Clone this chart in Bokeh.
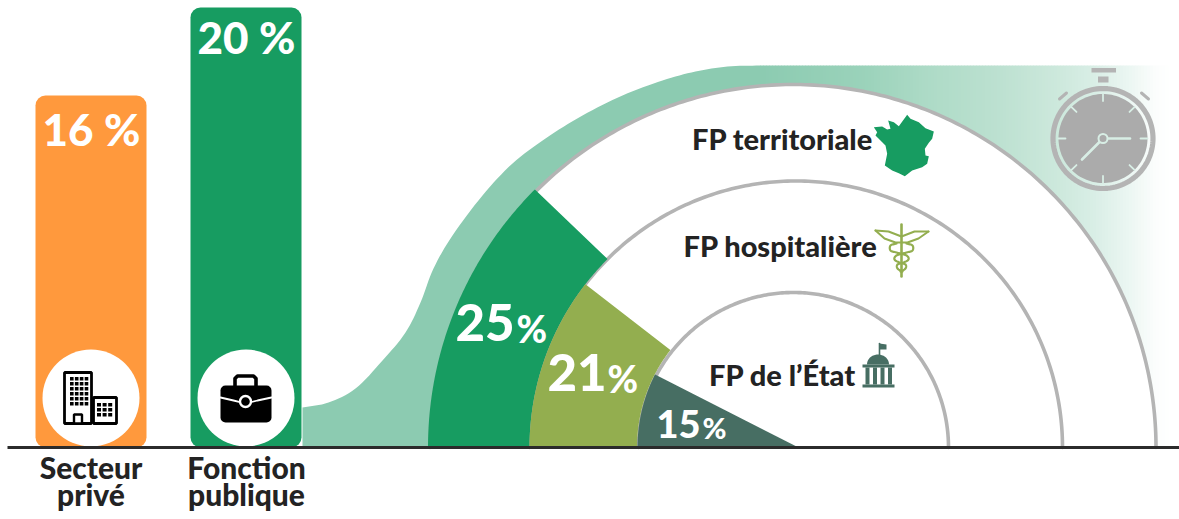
import numpy as np
from bokeh.plotting import figure
from bokeh.models import Range1d
from bokeh.core.properties import value
from bokeh.embed import file_html
from bokeh.resources import INLINE

# ---------- data ----------
bar_labels = [["Secteur", "privé"], ["Fonction", "publique"]]
bar_values = [16, 20]
bar_texts = ["16 %", "20 %"]
ring_names = ["FP territoriale", "FP hospitalière", "FP de l’État"]
ring_values = [25, 21, 15]
ring_texts = ["25", "21", "15"]

# ---------- styles ----------
ORANGE, GREEN, OLIVE, SLATE = "#FF993D", "#179C61", "#93AE4F", "#476E63"
BAND, GRAY, DARK = "#8CCBB1", "#B4B4B4", "#232323"
FONT = value("Lato Black")
W, H = 1179, 519
BASE = 447
PCT = 22.0
TEXT_SHIFT = 0.39


def Y(py):
    return (BASE - np.asarray(py, dtype=float)) / PCT


p = figure(width=W, height=H, output_backend="svg", toolbar_location=None,
           x_range=Range1d(0, W), y_range=Range1d((BASE - H) / PCT, BASE / PCT),
           min_border=0, outline_line_color=None, background_fill_color="white",
           border_fill_color="white", x_axis_location=None, y_axis_location=None)
p.grid.visible = False


def arc_pts(cx, r, a0, a1, n=120):
    t = np.radians(np.linspace(a0, a1, n))
    return cx + r * np.cos(t), BASE - r * np.sin(t)


def smooth(xs, ys, k=8):
    P = np.column_stack([xs, ys]).astype(float)
    P = np.vstack([2 * P[0] - P[1], P, 2 * P[-1] - P[-2]])
    out = []
    for i in range(1, len(P) - 2):
        for t in np.linspace(0, 1, k, endpoint=False):
            a, b, c, d = P[i - 1], P[i], P[i + 1], P[i + 2]
            out.append(0.5 * (2 * b + (c - a) * t + (2 * a - 5 * b + 4 * c - d) * t ** 2 + (3 * b - a - 3 * c + d) * t ** 3))
    out.append(P[-2])
    out = np.array(out)
    return out[:, 0], out[:, 1]


def txt(x, py, s, size, color=DARK, align="center", style="normal"):
    p.text([x], [float(Y(py - TEXT_SHIFT * size))], text=[s], text_font=FONT, text_font_size=f"{size}px",
           text_font_style=style, text_color=color, text_align=align,
           text_baseline="alphabetic")


def poly(xs, ys, color):
    p.patch(list(xs), list(Y(ys)), fill_color=color, line_color=None)


def lin(xs, ys, color, w=2.0):
    p.line(list(xs), list(Y(ys)), line_color=color, line_width=w, line_cap="round", line_join="round")


# ---------- band with fading tail ----------
band_x = [302, 328, 355, 382, 405, 420, 433, 452, 482, 512, 545, 582, 622, 662, 695, 727, 760]
band_y = [407, 402, 388, 360, 332, 302, 268, 235, 195, 163, 138, 115, 95, 80, 71, 66, 65]
sx, sy = smooth(band_x, band_y)
poly(list(sx) + [760, 302], list(sy) + [BASE, BASE], BAND)
stops_x = [760, 860, 930, 1000, 1060, 1093, 1127, 1153, 1168]
stops_c = [(0x8C, 0xCB, 0xB1), (0x9A, 0xD2, 0xBA), (0xAE, 0xDB, 0xC7), (0xBD, 0xE1, 0xD1),
           (0xCE, 0xE9, 0xDD), (0xD9, 0xEE, 0xE6), (0xEB, 0xF6, 0xF2), (0xFB, 0xFD, 0xFC), (0xFF, 0xFF, 0xFF)]
xs = np.arange(760, 1168, 3)
cols = ["#%02X%02X%02X" % tuple(int(round(np.interp(x, stops_x, [c[i] for c in stops_c]))) for i in range(3))
        for x in xs]
p.quad(left=xs - 0.5, right=xs + 3, top=float(Y(65)), bottom=0, fill_color=cols, line_color=None)

# ---------- white half disc and grey rings ----------
ax, ay = arc_pts(792.5, 363, 180, 0, 240)
poly(ax, ay, "white")
rings = [(792.5, 363), (795.5, 266.5), (793, 155)]
for cx, r in rings:
    ax, ay = arc_pts(cx, r, 180, 0, 240)
    lin(ax, ay, GRAY, 3.6)

# ---------- sectors: each value is a share of the half circle ----------
sweep = [v * 1.8 for v in ring_values]
ox, oy = arc_pts(792.5, 365, 180, 180 - sweep[0])
ix, iy = arc_pts(795.5, 266.5, 180 - sweep[0], 180)
poly(list(ox) + list(ix), list(oy) + list(iy), GREEN)
ox, oy = arc_pts(795.5, 266.5, 180, 180 - sweep[1])
ix, iy = arc_pts(795.5, 159, 180 - sweep[1], 180)
poly(list(ox) + list(ix), list(oy) + list(iy), OLIVE)
ox, oy = arc_pts(798, 161, 180, 180 - sweep[2])
poly(list(ox) + [798], list(oy) + [BASE], SLATE)

for (x0, py, xp, size, psize), t in zip([(455, 342, 516, 51, 37), (547, 392, 607, 51, 37), (656, 438, 702, 38, 29)],
                                        ring_texts):
    txt(x0, py, t, size, "white", "left")
    txt(xp, py, "%", psize, "white", "left")

# ---------- bars ----------
bar_x = [90.5, 245.5]
p.vbar(x=bar_x, width=111, bottom=0, top=bar_values, fill_color=[ORANGE, GREEN], line_color=None,
       border_radius=10)
p.scatter(x=bar_x, y=[float(Y(397.5))] * 2, size=97, marker="circle", fill_color="white", line_color=None)
for x, py, t in zip(bar_x, [146, 54], bar_texts):
    txt(x + 0.5, py, t, 44, "white")
for x, lines in zip([90.5, 246], bar_labels):
    txt(x, 478, lines[0], 30)
    txt(x, 505, lines[1], 30)

# building icon
p.quad(left=[64, 93], right=[91, 116], top=list(Y([372, 397])), bottom=list(Y([423, 423])),
       fill_color="white", line_color="black", line_width=2.8)
wx, wy, = [], []
for c in range(4):
    for r in range(6):
        wx.append(69.5 + c * 4.9)
        wy.append(376.5 + r * 5.0)
p.quad(left=wx, right=[x + 3.6 for x in wx], top=list(Y(wy)), bottom=list(Y([y + 3.6 for y in wy])),
       fill_color="black", line_color=None)
wx, wy = [], []
for c in range(3):
    for r in range(3):
        wx.append(96.5 + c * 5.6)
        wy.append(402.5 + r * 5.0)
p.quad(left=wx, right=[x + 4 for x in wx], top=list(Y(wy)), bottom=list(Y([y + 3.6 for y in wy])),
       fill_color="black", line_color=None)
p.quad(left=[73.5], right=[81.5], top=[float(Y(414))], bottom=[float(Y(423))], fill_color="white",
       line_color="black", line_width=2.4)

# briefcase icon
lin([234.5, 234.5, 237, 253, 255.5, 255.5], [386, 378, 375.5, 375.5, 378, 386], "black", 3.6)
p.quad(left=[220], right=[271], top=[float(Y(385))], bottom=[float(Y(422))], fill_color="black",
       line_color=None, border_radius=5)
lin([220, 233, 245, 257, 271], [397, 400, 403, 400, 397], "white", 1.8)
p.scatter(x=[245], y=[float(Y(401))], size=11, marker="circle", fill_color="black", line_color="white", line_width=2.4)

# baseline
p.line([7, W], [0, 0], line_color="#2B2B2B", line_width=2.8)

# ---------- ring labels ----------
for name, (x, py, size) in zip(ring_names, [(782, 149, 29), (780, 256, 29), (782, 385, 29)]):
    txt(x, py, name, size)

# France
fr_x = np.array([25, 50, 65, 75, 68, 85, 100, 125, 135, 160, 180, 205, 200, 190, 178, 180, 190, 185, 170, 140, 118, 100, 80, 58, 65, 60, 45, 30, 35])
fr_y = np.array([65, 63, 72, 70, 45, 50, 62, 28, 40, 50, 68, 78, 100, 112, 130, 150, 152, 175, 185, 195, 212, 203, 195, 180, 145, 120, 105, 90, 80])
poly(865 + fr_x / 3, 105 + fr_y / 3, GREEN)

# caduceus
lin([901, 901], [224, 276], OLIVE, 2.6)
lin([875, 888, 901, 914, 928], [230, 231, 236, 231, 231], OLIVE, 2)
lin([875, 884, 895, 907, 918, 928], [230, 238, 242, 242, 238, 231], OLIVE, 2)
sx, sy = smooth([896, 890, 890, 896, 906, 908, 903, 897, 897, 902], [243, 245, 250, 252, 255, 259, 262, 264, 268, 271])
lin(sx, sy, OLIVE, 2.2)
sx, sy = smooth([906, 912, 912, 906, 896, 894, 899, 905, 905, 900], [243, 245, 250, 252, 255, 259, 262, 264, 268, 271])
lin(sx, sy, OLIVE, 2.2)

# capitol
lin([879, 879], [343, 355], SLATE, 1.6)
poly([879, 886, 886, 879], [343, 344, 349, 349], SLATE)
t = np.radians(np.linspace(180, 0, 40))
poly(877.5 + 11 * np.cos(t), 364 - 10 * np.sin(t), SLATE)
p.quad(left=[862, 862], right=[894, 894], top=list(Y([364, 384])), bottom=list(Y([367, 387])),
       fill_color=SLATE, line_color=None)
p.quad(left=[865, 872.5, 880, 887.5], right=[869, 876.5, 884, 891.5], top=float(Y(367)), bottom=float(Y(384)),
       fill_color=SLATE, line_color=None)

# ---------- stopwatch ----------
CX, CY = 1102.5, 138
t = np.radians(np.linspace(0, 360, 120))
lin(CX + 50 * np.cos(t), CY + 50 * np.sin(t), GRAY, 5.2)
poly(CX + 44.5 * np.cos(t), CY + 44.5 * np.sin(t), "#ABABAB")
for a in np.radians(np.arange(0, 360, 45)):
    lin([CX + 37.5 * np.cos(a), CX + 44.5 * np.cos(a)], [CY + 37.5 * np.sin(a), CY + 44.5 * np.sin(a)], "#D8EEE5", 1.8)
lin([CX, CX + 27], [CY, CY], "#D8EEE5", 2.6)
lin([CX, CX - 21], [CY, CY + 21], "#D8EEE5", 2.6)
p.scatter(x=[CX], y=[float(Y(CY))], size=9, marker="circle", fill_color="#ABABAB", line_color="#D8EEE5", line_width=2)
p.quad(left=[1091, 1097.5], right=[1115.5, 1108], top=list(Y([67.5, 76])), bottom=list(Y([72, 82])),
       fill_color=GRAY, line_color=None)
lin([1059, 1066], [98.5, 92.5], GRAY, 3)
lin([1141, 1148], [92.5, 98.5], GRAY, 3)

open("out.html", "w").write(file_html(p, INLINE))
